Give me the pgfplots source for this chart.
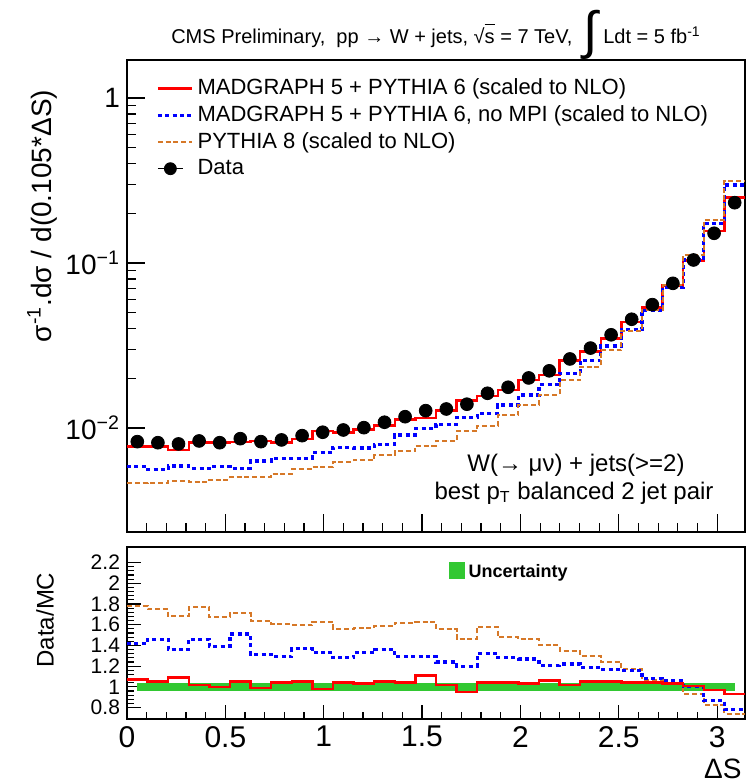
\documentclass[border=0pt]{standalone}
\usepackage{fontspec}
\setmainfont{Liberation Sans}
\usepackage{pgfplots}
\usepackage{pgfplotstable}
\pgfplotsset{compat=1.18}

\definecolor{mgred}{RGB}{255,0,0}
\definecolor{mpiblue}{RGB}{0,0,255}
\definecolor{pyorange}{RGB}{214,120,40}
\definecolor{uncgreen}{RGB}{50,200,50}

% bin low edges (width pi/30), last row repeats the last bin to close the step
\pgfplotstableread{
lo     mg      nompi   py8     rmg  rnompi rpy8
0.0000 0.00772 0.00582 0.00464 1.07 1.42 1.78
0.1047 0.00775 0.00558 0.00465 1.05 1.46 1.75
0.2094 0.00734 0.00588 0.00476 1.09 1.36 1.68
0.3142 0.00818 0.00571 0.00471 1.02 1.46 1.77
0.4189 0.00814 0.00586 0.00487 1.00 1.39 1.67
0.5236 0.00820 0.00570 0.00504 1.05 1.51 1.71
0.6283 0.00834 0.00631 0.00504 0.99 1.31 1.64
0.7330 0.00813 0.00656 0.00525 1.04 1.29 1.61
0.8378 0.00855 0.00655 0.00561 1.05 1.37 1.60
0.9425 0.00961 0.00708 0.00578 0.98 1.33 1.63
1.0472 0.00935 0.00759 0.00623 1.04 1.28 1.56
1.1519 0.00975 0.00755 0.00639 1.03 1.33 1.57
1.2566 0.01031 0.00796 0.00681 1.05 1.36 1.59
1.3614 0.01125 0.00907 0.00722 1.04 1.29 1.62
1.4661 0.01147 0.00987 0.00781 1.11 1.29 1.63
1.5708 0.01277 0.01051 0.00835 1.02 1.24 1.56
1.6755 0.01466 0.01161 0.00954 0.95 1.20 1.46
1.7802 0.01561 0.01230 0.01027 1.04 1.32 1.58
1.8850 0.01697 0.01379 0.01193 1.04 1.28 1.48
1.9897 0.01951 0.01583 0.01377 1.03 1.27 1.46
2.0944 0.02094 0.01835 0.01586 1.06 1.21 1.40
2.1991 0.02569 0.02148 0.01941 1.02 1.22 1.35
2.3038 0.02905 0.02563 0.02346 1.05 1.19 1.30
2.4086 0.03495 0.03137 0.02960 1.05 1.17 1.24
2.5133 0.04385 0.03931 0.03897 1.04 1.16 1.17
2.6180 0.05375 0.05176 0.05224 1.04 1.08 1.07
2.7227 0.07311 0.07104 0.07311 1.03 1.06 1.03
2.8274 0.1033  0.1043  0.1122  1.01 1.00 0.93
2.9322 0.1561  0.1740  0.1824  0.97 0.87 0.83
3.0369 0.2495  0.2974  0.3135  0.93 0.78 0.74
3.1416 0.2495  0.2974  0.3135  0.93 0.78 0.74
}\hist

\pgfplotstableread{
x      data
0.0524 0.00826
0.1571 0.00814
0.2618 0.00800
0.3665 0.00834
0.4712 0.00814
0.5760 0.00861
0.6807 0.00826
0.7854 0.00846
0.8901 0.00898
0.9948 0.00942
1.0996 0.00972
1.2043 0.01004
1.3090 0.01083
1.4137 0.01170
1.5184 0.01273
1.6232 0.01303
1.7279 0.01393
1.8326 0.01623
1.9373 0.01765
2.0420 0.02010
2.1468 0.02220
2.2515 0.02620
2.3562 0.03050
2.4609 0.03670
2.5656 0.04560
2.6704 0.05590
2.7751 0.07530
2.8798 0.10430
2.9845 0.15140
3.0892 0.23200
}\datatab

\pgfplotsset{
  cmsaxis/.style={
    scale only axis, width=309pt,
    xmin=0, xmax=3.1416,
    axis line style={line width=0.9pt},
    tick style={black, line width=0.6pt},
    tick align=inside, tick pos=left,
    xtick={0,0.5,...,3}, minor x tick num=4,
    /pgf/number format/assume math mode=true,
  }
}

\begin{document}
\begin{tikzpicture}
\useasboundingbox (0,0) rectangle (373.5pt,-391pt);

% ---- main panel
\begin{axis}[cmsaxis,
  at={(63.5pt,-30pt)}, anchor=north west, height=236pt,
  ymode=log, ymin=0.00234, ymax=1.7,
  ytick={0.01,0.1,1},
  yticklabels={10\textsuperscript{−2},10\textsuperscript{−1},1},
  xticklabels={},
  major tick length=9pt, minor tick length=4.5pt,
  yticklabel style={font=\fontsize{14}{14}\selectfont},
  legend cell align=left,
  legend style={draw=none, fill=none, at={(0.037,0.978)}, anchor=north west,
    font=\fontsize{11}{12}\selectfont, row sep=0pt,
    /tikz/every even column/.append style={column sep=2pt}},
]
\addplot[const plot, mgred, line width=1.3pt] table[x=lo,y=mg]{\hist};
\addlegendentry{MADGRAPH 5 + PYTHIA 6 (scaled to NLO)}
\addplot[const plot, mpiblue, line width=1.6pt, dash pattern=on 2pt off 1.7pt] table[x=lo,y=nompi]{\hist};
\addlegendentry{MADGRAPH 5 + PYTHIA 6, no MPI (scaled to NLO)}
\addplot[const plot, pyorange, line width=1pt, dash pattern=on 2.5pt off 1.4pt] table[x=lo,y=py8]{\hist};
\addlegendentry{PYTHIA 8 (scaled to NLO)}
\addplot[only marks, mark=*, mark size=3.2pt, black,
  legend image code/.code={\draw[black,line width=0.8pt] (0cm,0cm) -- (0.44cm,0cm);
    \fill[black] (0.22cm,0cm) circle (3pt);}] table[x=x,y=data]{\datatab};
\addlegendentry{Data}
\end{axis}

% ---- ratio panel
\begin{axis}[cmsaxis,
  at={(63.5pt,-273.5pt)}, anchor=north west, height=86pt,
  ymin=0.69, ymax=2.35,
  ytick={0.8,1,...,2.2}, minor y tick num=4,
  major tick length=7pt, minor tick length=3.5pt,
  yticklabel style={font=\fontsize{10.5}{10.5}\selectfont},
  xticklabel style={font=\fontsize{15}{15}\selectfont},
  legend style={draw=none, fill=none, at={(0.51,0.95)}, anchor=north west,
    font=\bfseries\fontsize{9}{10}\selectfont},
]
\addplot[fill=uncgreen, draw=none,
  legend image code/.code={\fill[uncgreen] (0cm,-0.13cm) rectangle (0.28cm,0.17cm);}]
  coordinates {(0.0524,0.963) (3.0892,0.963) (3.0892,1.035) (0.0524,1.035)} -- cycle;
\addlegendentry{Uncertainty}
\addplot[const plot, pyorange, line width=1pt, dash pattern=on 2.5pt off 1.4pt, forget plot] table[x=lo,y=rpy8]{\hist};
\addplot[const plot, mpiblue, line width=1.6pt, dash pattern=on 2pt off 1.7pt, forget plot] table[x=lo,y=rnompi]{\hist};
\addplot[const plot, mgred, line width=1.3pt, forget plot] table[x=lo,y=rmg]{\hist};
\end{axis}

% ---- labels
\node[font=\fontsize{10}{12}\selectfont] at (218pt,-17.5pt)
  {CMS Preliminary,\ \ pp → W + jets, √\makebox[0pt][l]{\rule[1.8ex]{0.5em}{0.4pt}}s = 7 TeV,\ \ \raisebox{-0.45ex}{\fontsize{26}{26}\selectfont ∫} Ldt = 5 fb\textsuperscript{-1}};
\node[rotate=90, font=\fontsize{14}{14}\selectfont] at (21pt,-108pt)
  {σ\textsuperscript{-1}.dσ / d(0.105*ΔS)};
\node[rotate=90, font=\fontsize{12}{12}\selectfont] at (22.5pt,-310pt) {Data/MC};
\node[anchor=base east, inner sep=0pt, font=\fontsize{14}{14}\selectfont] at (371pt,-389pt) {ΔS};
\node[font=\fontsize{12}{12}\selectfont] at (288pt,-232.5pt) {W(→ μν) + jets(>=2)};
\node[font=\fontsize{12}{12}\selectfont] at (287pt,-246.5pt) {best p\textsubscript{T} balanced 2 jet pair};
\end{tikzpicture}
\end{document}
